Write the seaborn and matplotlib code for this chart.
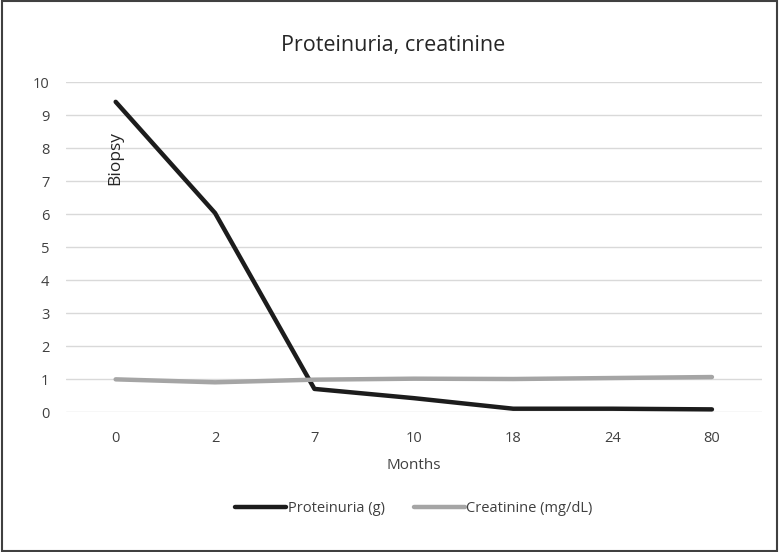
import matplotlib
matplotlib.use("Agg")
import matplotlib.pyplot as plt
import seaborn as sns
import pandas as pd
from matplotlib.patches import Rectangle

months = ["0", "2", "7", "10", "18", "24", "80"]
proteinuria = [9.4, 6.03, 0.7, 0.42, 0.1, 0.1, 0.08]
creatinine = [0.99, 0.9, 0.98, 1.01, 1.0, 1.03, 1.06]
series_names = ["Proteinuria (g)", "Creatinine (mg/dL)"]
yticks = list(range(0, 11))

sns.set_theme(style="white")
plt.rcParams["font.family"] = ["Open Sans", "DejaVu Sans"]

df = pd.DataFrame({
    "Months": months * 2,
    "value": proteinuria + creatinine,
    "series": [series_names[0]] * len(months) + [series_names[1]] * len(months),
})

fig = plt.figure(figsize=(7.79, 5.52), dpi=100)
ax = fig.add_axes([0.0847, 0.2536, 0.893, 0.5978])

sns.lineplot(data=df, x="Months", y="value", hue="series", sort=False,
             palette=["#1c1c1c", "#a5a5a5"], linewidth=3.2, ax=ax, legend=True)

ax.set_ylim(0, 10)
ax.set_xlim(-0.5, len(months) - 0.5)
ax.set_yticks(yticks)
ax.grid(axis="y", color="#d9d9d9", linewidth=1)
ax.set_axisbelow(True)
for s in ax.spines.values():
    s.set_visible(False)
ax.tick_params(axis="both", length=0, labelsize=10.5, colors="#404040")
ax.tick_params(axis="x", pad=14)
ax.tick_params(axis="y", pad=12)
ax.set_ylabel("")
ax.set_xlabel("Months", fontsize=11, color="#404040", labelpad=8)
fig.text(0.505, 1 - 45 / 552, "Proteinuria, creatinine", fontsize=15.5,
         color="#262626", ha="center", va="center")

ax.text(0, 7.7, "Biopsy", rotation=90, ha="center", va="center",
        fontsize=12.5, color="#262626")

leg = ax.legend(loc="upper center", bbox_to_anchor=(0.5, -0.23), ncol=2,
                frameon=False, fontsize=10.5, handlelength=3.5, columnspacing=2.0,
                handletextpad=0.1)
for t in leg.get_texts():
    t.set_color("#404040")

fig.patches.append(Rectangle((0.002, 0.002), 0.996, 0.996, transform=fig.transFigure,
                             fill=False, edgecolor="#404040", linewidth=1.5))

fig.savefig("out.png", dpi=100)
